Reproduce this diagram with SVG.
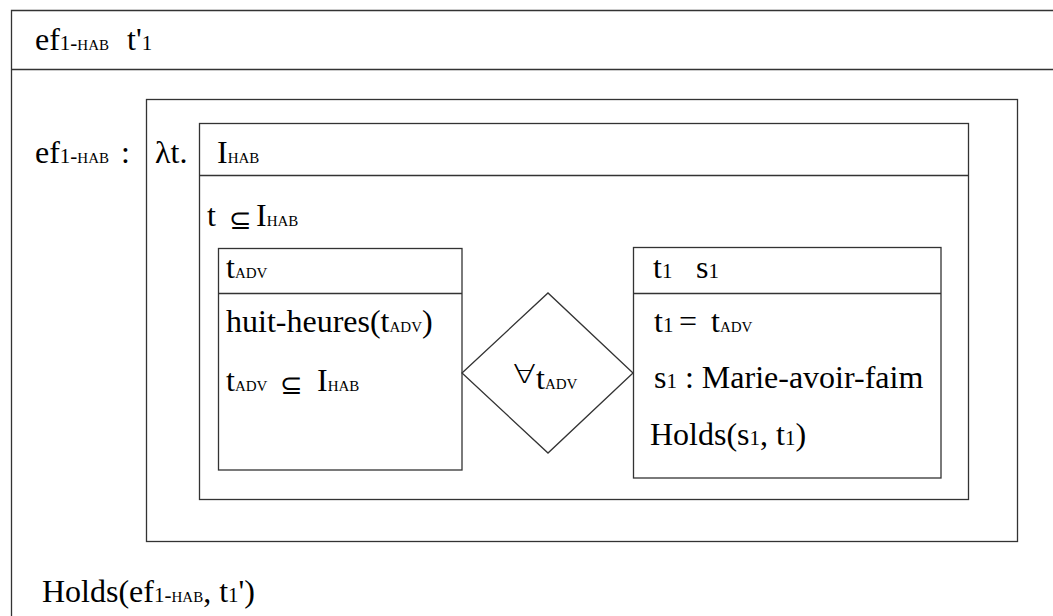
<svg xmlns="http://www.w3.org/2000/svg" width="1053" height="616" viewBox="0 0 1053 616">
<style>
.ln{fill:none;stroke:#333;stroke-width:1.3}
text{font-family:"Liberation Serif","Times New Roman",serif;font-size:32px;fill:#000}
.s{font-size:21px}
.sc{font-size:15px}
.op{font-family:"DejaVu Sans","Liberation Sans",sans-serif;font-size:27px;font-weight:200}
</style>
<g id="outer">
<path class="ln" d="M1060,10.5 H11.5 V630"/>
<line class="ln" x1="11" y1="69.5" x2="1060" y2="69.5"/>
<text x="35" y="50">ef<tspan class="s">1-</tspan><tspan class="sc">HAB</tspan><tspan x="127">t'</tspan><tspan class="s">1</tspan></text>
<text x="35" y="163">ef<tspan class="s">1-</tspan><tspan class="sc">HAB</tspan><tspan x="121">:</tspan></text>
<text x="42" y="602">Holds(ef<tspan class="s">1-</tspan><tspan class="sc">HAB</tspan>, t<tspan class="s">1</tspan>')</text>
</g>
<g id="lambda">
<rect class="ln" x="146.5" y="99.5" width="871" height="442"/>
<text x="155" y="163">λt.</text>
</g>
<g id="drs">
<rect class="ln" x="199.5" y="123.5" width="769" height="376"/>
<line class="ln" x1="199.5" y1="175.5" x2="968.5" y2="175.5"/>
<text x="217" y="163">I<tspan class="sc">HAB</tspan></text>
<text x="207" y="226">t<tspan x="256">I</tspan><tspan class="sc">HAB</tspan></text>
<text class="op" x="229" y="229">⊆</text>
</g>
<g id="left">
<rect class="ln" x="218.5" y="248.5" width="243.5" height="221.5"/>
<line class="ln" x1="218.5" y1="293.5" x2="462" y2="293.5"/>
<text x="226" y="278">t<tspan class="sc">ADV</tspan></text>
<text x="226" y="332">huit-heures(t<tspan class="sc">ADV</tspan>)</text>
<text x="226" y="391">t<tspan class="sc">ADV</tspan><tspan x="317">I</tspan><tspan class="sc">HAB</tspan></text>
<text class="op" x="280" y="394">⊆</text>
</g>
<g id="connectors">
<polygon class="ln" points="462,373 548,293 633,373 548,453"/>
<text class="op" transform="translate(513,383) scale(1.3,1)" x="0" y="0" style="font-size:26px">∀</text>
<text x="536" y="389">t<tspan class="sc">ADV</tspan></text>
</g>
<g id="right">
<rect class="ln" x="633.5" y="247.5" width="307.5" height="230.5"/>
<line class="ln" x1="633.5" y1="293.5" x2="941" y2="293.5"/>
<text x="653" y="278">t<tspan class="s">1</tspan><tspan x="696">s</tspan><tspan class="s">1</tspan></text>
<text x="654" y="332">t<tspan class="s">1</tspan><tspan x="679">=</tspan><tspan x="711">t</tspan><tspan class="sc">ADV</tspan></text>
<text x="654" y="388">s<tspan class="s">1</tspan> : Marie-avoir-faim</text>
<text x="650" y="445">Holds(s<tspan class="s">1</tspan>, t<tspan class="s">1</tspan>)</text>
</g>
</svg>
